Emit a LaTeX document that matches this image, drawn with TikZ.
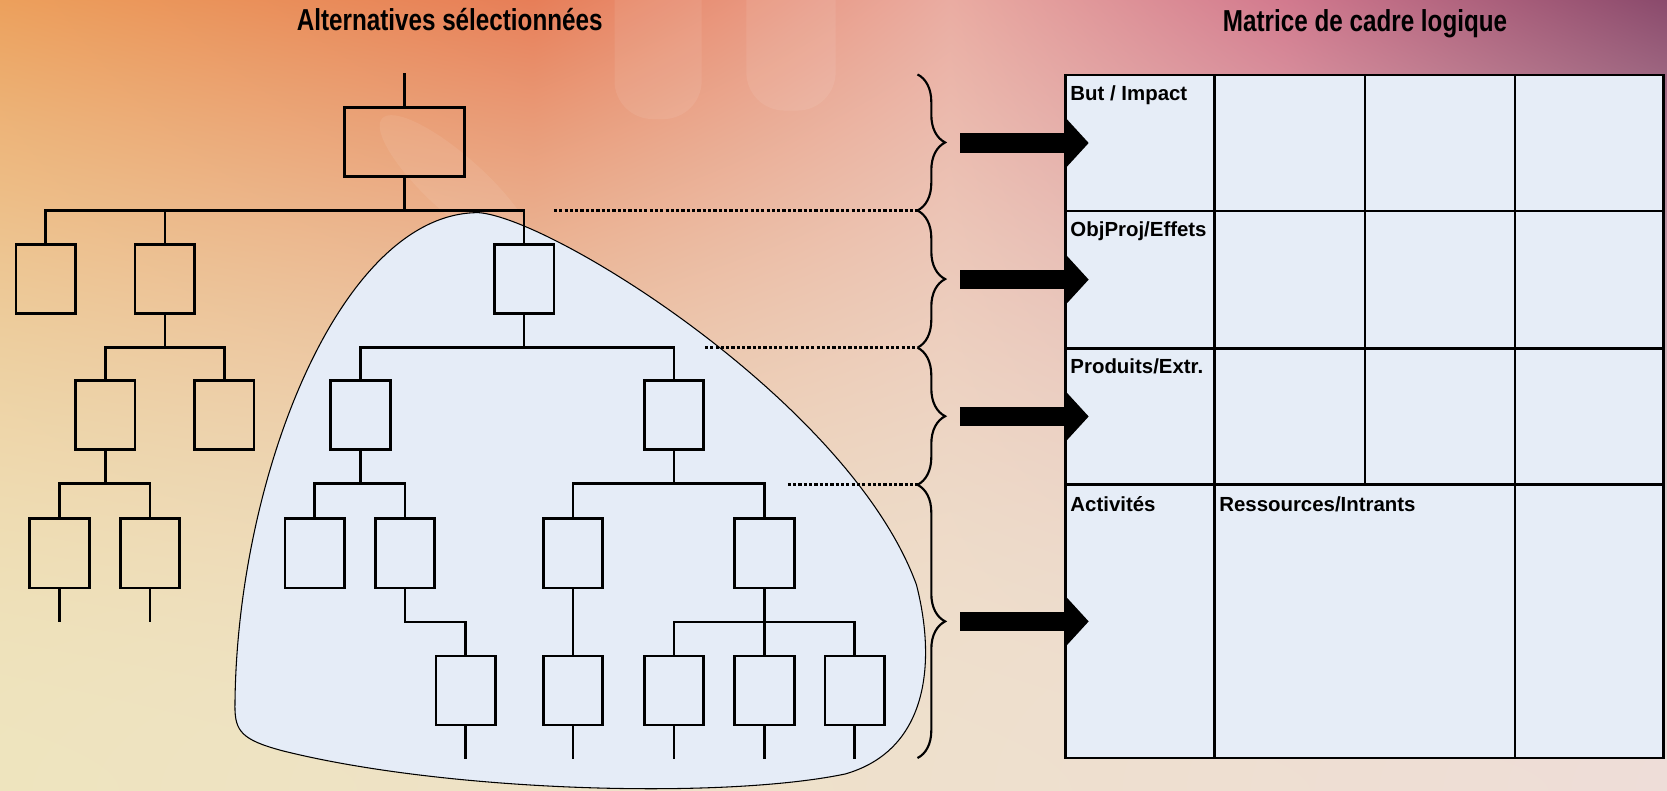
\documentclass[tikz,border=0pt]{standalone}
\usepackage{fontspec}
\setmainfont{Liberation Sans}
\newfontfamily\narrowfont[FakeStretch=0.8]{Liberation Sans Bold}
\usetikzlibrary{arrows.meta,decorations.pathreplacing}

% palette
\definecolor{cellfill}{HTML}{E6EDF7}
\definecolor{blobfill}{HTML}{E5ECF7}

% backdrop: warm band along the top (orange -> rose -> plum) fading quadratically
% into a pale cream/blush ground; u and v run over the central 25..75bp square
\pgfdeclarefunctionalshading{backdrop}{\pgfpointorigin}{\pgfpoint{100bp}{100bp}}{}{
  25 sub 50 div dup mul
  exch 25 sub 50 div
  1 index 1 index
  dup 0.32 lt {-0.06127 mul -0.00784 add} {dup 0.57 lt {0.04706 mul -0.04251 add} {dup 0.77 lt {-0.47059 mul 0.25255 add} {-1.22762 mul 0.83545 add} ifelse} ifelse} ifelse
  mul 0.93333 add
  3 1 roll
  1 index 1 index
  dup 0.32 lt {-0.38922 mul -0.26667 add} {dup 0.57 lt {0.74902 mul -0.63090 add} {dup 0.77 lt {-0.95294 mul 0.33922 add} {-0.79098 mul 0.21451 add} ifelse} ifelse} ifelse
  mul
  1 index -0.02745 mul 0.89412 add add
  3 1 roll
  1 index 1 index
  dup 0.32 lt {-0.15098 mul -0.38431 add} {dup 0.57 lt {1.05882 mul -0.77145 add} {dup 0.77 lt {-0.49412 mul 0.11333 add} {-0.68168 mul 0.25816 add} ifelse} ifelse} ifelse
  mul
  1 index 0.10196 mul 0.74510 add add
  3 1 roll
  pop pop
}

\tikzset{
  glow/.style={fill=white, fill opacity=0.08},
  tbox/.style={draw, line width=1.3pt, minimum width=28pt, minimum height=32.5pt, inner sep=0pt, outer sep=0pt},
  tline/.style={line width=1.2pt},
  dotline/.style={line width=1.3pt, dash pattern=on 1.5pt off 1pt},
  bracestyle/.style={line width=1pt, decorate, decoration={brace, amplitude=13pt}},
  cell/.style={draw, fill=cellfill, line width=1.3pt, inner sep=0pt, outer sep=0pt, anchor=north west},
  lbl/.style={font=\bfseries\fontsize{9.6}{11}\selectfont, anchor=base west, inner sep=0pt},
  title/.style={font=\narrowfont\fontsize{14.25}{17}\selectfont, anchor=base, inner sep=0pt},
  bigarrow/.style={line width=9pt, -{Triangle[length=11pt, width=24pt, line width=0pt]}},
}

\begin{document}
\begin{tikzpicture}[x=0.5pt, y=-0.5pt]
\useasboundingbox (0,0) rectangle (1568,744);

% background
\path[shading=backdrop] (0,0) rectangle (1568,744);
\begin{scope}
  \clip (0,0) rectangle (1568,744);
  % faint hand silhouette
  \fill[glow, rounded corners=18pt] (578,-40) rectangle (660,112);
  \fill[glow, rounded corners=18pt] (702,-40) rectangle (786,104);
  \fill[glow, rotate around={-42:(430,175)}] (430,175) ellipse [x radius=95, y radius=27];
\end{scope}

% selected branch
\path[draw=black, line width=0.5pt, fill=blobfill]
  (450,200) .. controls (520,205) and (800,380) .. (862,550)
  .. controls (880,620) and (875,705) .. (795,728)
  .. controls (680,752) and (420,745) .. (265,706)
  .. controls (228,696) and (221,688) .. (221,665)
  .. controls (222,450) and (320,200) .. (450,200) -- cycle;

% tree boxes
\node[tbox, minimum width=56.5pt] (root) at (380.5,133.5) {};
\node[tbox] (a) at (43,262.5) {};
\node[tbox] (b) at (155,262.5) {};
\node[tbox] (c) at (493,262.5) {};
\node[tbox] (b1) at (99,390.5) {};
\node[tbox] (b2) at (211,390.5) {};
\node[tbox] (c1) at (339,390.5) {};
\node[tbox] (c2) at (634,390.5) {};
\node[tbox] (b11) at (56,520.5) {};
\node[tbox] (b12) at (141,520.5) {};
\node[tbox] (c11) at (296,520.5) {};
\node[tbox] (c12) at (381,520.5) {};
\node[tbox] (c21) at (539,520.5) {};
\node[tbox] (c22) at (719,520.5) {};
\node[tbox] (c12a) at (438,649.5) {};
\node[tbox] (c21a) at (539,649.5) {};
\node[tbox] (c22a) at (634,649.5) {};
\node[tbox] (c22b) at (719,649.5) {};
\node[tbox] (c22c) at (804,649.5) {};

% free stem ends
\coordinate (rtop) at (380.5,69);
\coordinate (e1) at (56,585);
\coordinate (e2) at (141,585);
\coordinate (e3) at (438,714);
\coordinate (e4) at (539,714);
\coordinate (e5) at (634,714);
\coordinate (e6) at (719,714);
\coordinate (e7) at (804,714);

% tree connectors
\draw[tline] (rtop) -- (root.north);
\foreach \p/\c in {root/a, root/b, root/c, b/b1, b/b2, c/c1, c/c2,
                   b1/b11, b1/b12, c1/c11, c1/c12, c2/c21, c2/c22,
                   c12/c12a, c21/c21a, c22/c22a, c22/c22b, c22/c22c}
  \draw[tline] (\p.south) -- ++(0,32) -| (\c.north);
\draw[tline] (b11.south) -- (e1);
\draw[tline] (b12.south) -- (e2);
\draw[tline] (c12a.south) -- (e3);
\draw[tline] (c21a.south) -- (e4);
\draw[tline] (c22a.south) -- (e5);
\draw[tline] (c22b.south) -- (e6);
\draw[tline] (c22c.south) -- (e7);

% braces and level separators
\coordinate (br0) at (863,70);
\coordinate (br1) at (863,198);
\coordinate (br2) at (863,327);
\coordinate (br3) at (863,456);
\coordinate (br4) at (863,713);
\coordinate (d1) at (521,198);
\coordinate (d2) at (663,327);
\coordinate (d3) at (741,456);
\draw[dotline] (d1) -- (br1);
\draw[dotline] (d2) -- (br2);
\draw[dotline] (d3) -- (br3);
\draw[bracestyle] (br0) -- (br1);
\draw[bracestyle] (br1) -- (br2);
\draw[bracestyle] (br2) -- (br3);
\draw[bracestyle] (br3) -- (br4);

% logical framework matrix
\node[cell, minimum width=70pt, minimum height=64pt] (m11) at (1002,70.5) {};
\node[cell, minimum width=71pt, minimum height=64pt] (m12) at (1142,70.5) {};
\node[cell, minimum width=70.5pt, minimum height=64pt] (m13) at (1284,70.5) {};
\node[cell, minimum width=70pt, minimum height=64pt] (m14) at (1425,70.5) {};
\node[cell, minimum width=70pt, minimum height=64.5pt] (m21) at (1002,198.5) {};
\node[cell, minimum width=71pt, minimum height=64.5pt] (m22) at (1142,198.5) {};
\node[cell, minimum width=70.5pt, minimum height=64.5pt] (m23) at (1284,198.5) {};
\node[cell, minimum width=70pt, minimum height=64.5pt] (m24) at (1425,198.5) {};
\node[cell, minimum width=70pt, minimum height=64.25pt] (m31) at (1002,327.5) {};
\node[cell, minimum width=71pt, minimum height=64.25pt] (m32) at (1142,327.5) {};
\node[cell, minimum width=70.5pt, minimum height=64.25pt] (m33) at (1284,327.5) {};
\node[cell, minimum width=70pt, minimum height=64.25pt] (m34) at (1425,327.5) {};
\node[cell, minimum width=70pt, minimum height=128.5pt] (m41) at (1002,456) {};
\node[cell, minimum width=141.5pt, minimum height=128.5pt] (m42) at (1142,456) {};
\node[cell, minimum width=70pt, minimum height=128.5pt] (m44) at (1425,456) {};

\node[lbl] (l1) at ([shift={(4.5,24)}]m11.north west) {But / Impact};
\node[lbl] (l2) at ([shift={(4.5,24)}]m21.north west) {ObjProj/Effets};
\node[lbl] (l3) at ([shift={(4.5,24)}]m31.north west) {Produits/Extr.};
\node[lbl] (l4) at ([shift={(4.5,25)}]m41.north west) {Activités};
\node[lbl] (l5) at ([shift={(4.5,25)}]m42.north west) {Ressources/Intrants};

% arrows from the braces to the matrix rows
\coordinate (s1) at (903,134.5);
\coordinate (s2) at (903,263);
\coordinate (s3) at (903,391.75);
\coordinate (s4) at (903,584.5);
\draw[bigarrow] (s1) -- ([xshift=11pt]m11.west);
\draw[bigarrow] (s2) -- ([xshift=11pt]m21.west);
\draw[bigarrow] (s3) -- ([xshift=11pt]m31.west);
\draw[bigarrow] (s4) -- ([xshift=11pt]m41.west);

% headings
\node[title] (t1) at (423,29) {Alternatives sélectionnées};
\node[title] (t2) at (1284,30) {Matrice de cadre logique};
\end{tikzpicture}
\end{document}
